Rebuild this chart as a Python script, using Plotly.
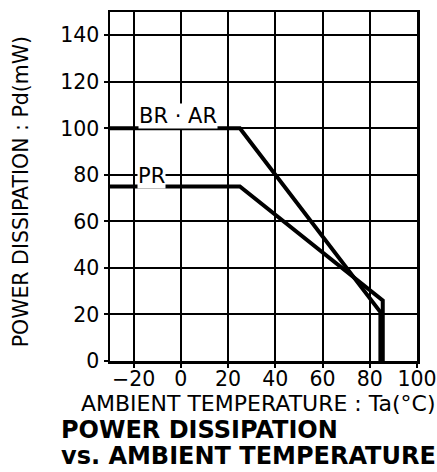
import plotly.graph_objects as go

# Data
br_ar_temp = [-30, 25, 84.5, 84.5]
br_ar_pd = [100, 100, 21, 0]
pr_temp = [-30, 25, 85.5, 85.5]
pr_pd = [75, 75, 26, 0]

x_ticks = [-20, 0, 20, 40, 60, 80, 100]
y_ticks = [0, 20, 40, 60, 80, 100, 120, 140]

label_br = "BR · AR"
label_pr = "PR"

fig = go.Figure()
fig.add_trace(go.Scatter(x=br_ar_temp, y=br_ar_pd, mode="lines",
                         line=dict(color="black", width=4), name=label_br,
                         showlegend=False, hoverinfo="skip"))
fig.add_trace(go.Scatter(x=pr_temp, y=pr_pd, mode="lines",
                         line=dict(color="black", width=4), name=label_pr,
                         showlegend=False, hoverinfo="skip"))

tickfont = dict(family="DejaVu Sans", size=20.5, color="black")

fig.update_xaxes(range=[-30, 100], tickvals=x_ticks, ticktext=[str(v).replace("-", "−") for v in x_ticks],
                 showgrid=True, gridcolor="black", gridwidth=2,
                 showline=True, linecolor="black", linewidth=2.5, mirror=True,
                 ticks="outside", ticklen=4, tickcolor="black", tickwidth=2,
                 ticklabelstandoff=-6,
                 tickfont=tickfont, zeroline=False, fixedrange=True, automargin=False)
fig.update_yaxes(range=[0, 150], tickvals=y_ticks,
                 showgrid=True, gridcolor="black", gridwidth=2,
                 showline=True, linecolor="black", linewidth=2.5, mirror=True,
                 ticks="outside", ticklen=4, tickcolor="black", tickwidth=2,
                 tickfont=tickfont, zeroline=False, fixedrange=True, automargin=False)

annotations = [
    dict(x=-1.0, y=105.5, xref="x", yref="y", text=label_br, showarrow=False,
         font=dict(family="DejaVu Sans", size=21, color="black"),
         bgcolor="white", borderpad=0),
    dict(x=-12.3, y=79.6, xref="x", yref="y", text=label_pr, showarrow=False,
         font=dict(family="DejaVu Sans", size=21, color="black"),
         bgcolor="white", borderpad=0),
    dict(x=-0.29, y=0.486, xref="paper", yref="paper", text="POWER DISSIPATION : Pd(mW)",
         textangle=-90, showarrow=False, xanchor="center", yanchor="middle",
         font=dict(family="DejaVu Sans", size=20.5, color="black")),
    dict(x=-0.098, y=-0.123, xref="paper", yref="paper", text="AMBIENT TEMPERATURE : Ta(°C)",
         showarrow=False, xanchor="left", yanchor="middle", borderpad=0,
         font=dict(family="DejaVu Sans", size=22, color="black")),
    dict(x=-0.163, y=-0.199, xref="paper", yref="paper", text="<b>POWER DISSIPATION</b>",
         showarrow=False, xanchor="left", yanchor="middle", borderpad=0,
         font=dict(family="DejaVu Sans", size=24, color="black")),
    dict(x=-0.163, y=-0.272, xref="paper", yref="paper", text="<b>vs. AMBIENT TEMPERATURE</b>",
         showarrow=False, xanchor="left", yanchor="middle", borderpad=0,
         font=dict(family="DejaVu Sans", size=24, color="black")),
]

fig.update_layout(width=437, height=472,
                  margin=dict(l=110, r=20, t=12, b=111, autoexpand=False),
                  paper_bgcolor="white", plot_bgcolor="white",
                  annotations=annotations, showlegend=False, hovermode=False)

fig.write_html("out.html", config={"displayModeBar": False, "staticPlot": True},
               post_script="document.body.style.margin='0';")
